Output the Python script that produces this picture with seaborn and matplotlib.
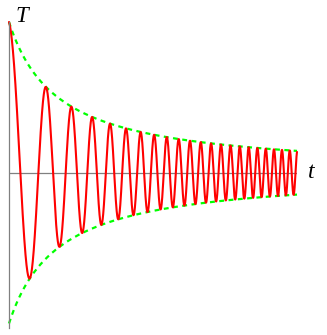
import numpy as np
import matplotlib
matplotlib.use("Agg")
import matplotlib.pyplot as plt
import seaborn as sns

# ---------------------------------------------------------
# values
# ---------------------------------------------------------
t_range = [0.0, 5.9]          # time span shown
decay_rate = [1.0]            # envelope = 1 / (1 + rate * t)
chirp_cycles = [0.965, 0.467] # cycles = a*t + b*t^2 (fitted to peak positions)
y_range = [-1.03, 1.0]

t = np.linspace(t_range[0], t_range[1], 4000)
envelope = 1.0 / (1.0 + decay_rate[0] * t)
phase = 2 * np.pi * (chirp_cycles[0] * t + chirp_cycles[1] * t ** 2)
T = envelope * np.cos(phase)

# ---------------------------------------------------------
# plot
# ---------------------------------------------------------
sns.set_style("white")
fig = plt.figure(figsize=(3.27, 3.35), dpi=100)
ax = fig.add_axes([9 / 327, 7 / 335, 288 / 327, 306 / 335])

sns.lineplot(x=t, y=envelope, ax=ax, color="#00ff00", lw=1.6,
             linestyle=(0, (2.2, 2.0)), clip_on=False)
sns.lineplot(x=t, y=-envelope, ax=ax, color="#00ff00", lw=1.6,
             linestyle=(0, (2.2, 2.0)), clip_on=False)
sns.lineplot(x=t, y=T, ax=ax, color="#ff0000", lw=1.5, clip_on=False)

ax.set_xlim(t_range)
ax.set_ylim(y_range)

for side in ["top", "right", "bottom"]:
    ax.spines[side].set_visible(False)
ax.spines["left"].set_color("#808080")
ax.spines["left"].set_linewidth(0.9)
ax.axhline(0, color="#808080", lw=0.9, zorder=0)
ax.set_xticks([])
ax.set_yticks([])
ax.patch.set_alpha(0)

ax.text(0.27, 1.0, "T", fontsize=16.5, style="italic", color="black",
        family="Liberation Serif", ha="center", va="baseline")
ax.text(t_range[1] + 0.3, 0, "t", fontsize=17, style="italic", color="black",
        family="Liberation Serif", ha="center", va="center")

fig.savefig("out.png", dpi=100)
